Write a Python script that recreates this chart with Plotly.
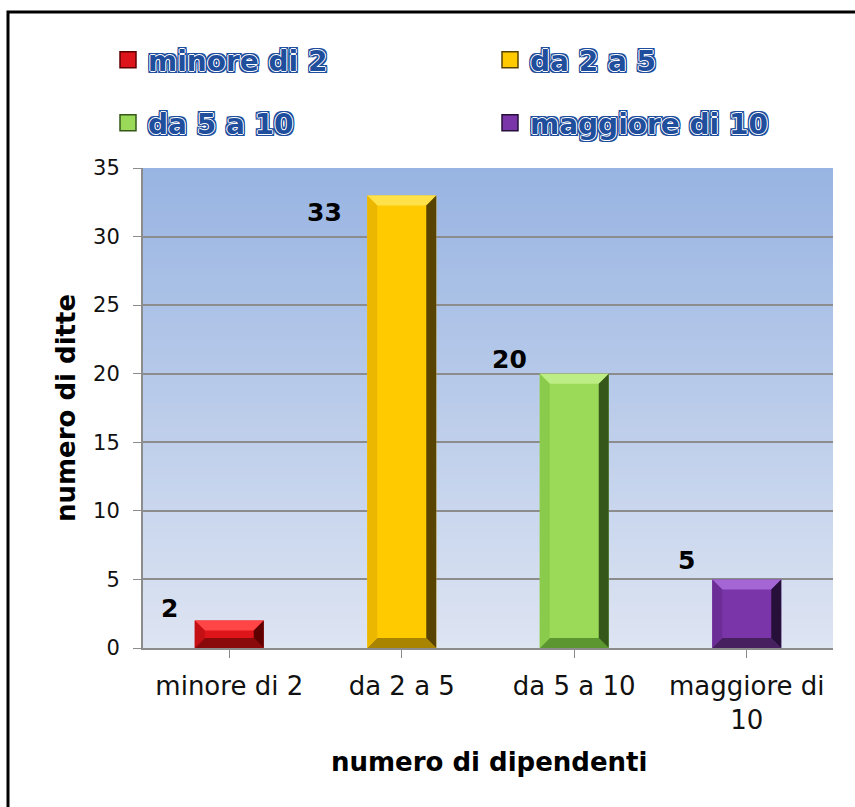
import plotly.graph_objects as go

# ---- data ----
categories = ["minore di 2", "da 2 a 5", "da 5 a 10", "maggiore di 10"]
tick_labels = ["minore di 2", "da 2 a 5", "da 5 a 10", "maggiore di<br>10"]
values = [2, 33, 20, 5]

# ---- styles ----
base_colors = ["#DD1419", "#FFCA00", "#9ADA58", "#7A36A8"]
top_colors = ["#FF4545", "#FFE24A", "#BDEE86", "#A466D4"]
bottom_colors = ["#8A0A0C", "#A88400", "#5C9630", "#46205F"]
right_colors = ["#5E0000", "#584300", "#35581A", "#26103A"]
left_colors = ["#C31015", "#EBB700", "#8BCB4B", "#6C2E96"]
label_dx = [-60, -77, -65, -60]
label_dy = [12, -17, 14, 19]
legend_x_px = [108, 490, 108, 490]
legend_y_px = [60, 60, 123, 123]

W, H = 855, 807
PL, PR, PT, PB = 143, 833, 168, 648  # plot area in screen px
ML, MT = PL, PT
MR, MB = W - PR, H - PB
pw, ph = PR - PL, PB - PT
ymax = 35
bar_w = 0.4


def px(sx):
    return (sx - PL) / pw


def py(sy):
    return (PB - sy) / ph


fig = go.Figure()

for i, (cat, val) in enumerate(zip(categories, values)):
    fig.add_trace(go.Bar(
        x=[i], y=[val], name=cat, width=bar_w,
        marker=dict(color=base_colors[i], line=dict(width=0)),
        showlegend=False, hoverinfo="x+y",
    ))
# legend entries (bigger square swatches), one legend box per entry
legend_ids = ["legend", "legend2", "legend3", "legend4"]
for i, cat in enumerate(categories):
    fig.add_trace(go.Scatter(
        x=[None], y=[None], mode="markers", name=cat,
        marker=dict(symbol="square", size=16, color=base_colors[i],
                    line=dict(color=right_colors[i], width=1.5)),
        legend=legend_ids[i], hoverinfo="skip",
    ))

shapes = []
# gradient background of plot area
N = 80
c0 = (0x98, 0xB4, 0xE2)
c1 = (0xDD, 0xE4, 0xF2)
for k in range(N):
    t = k / (N - 1)
    c = tuple(round(c0[j] + (c1[j] - c0[j]) * t) for j in range(3))
    shapes.append(dict(type="rect", xref="x domain", yref="y domain",
                       x0=0, x1=1, y0=1 - (k + 1) / N, y1=1 - k / N,
                       fillcolor="rgb(%d,%d,%d)" % c, line=dict(width=0),
                       layer="below"))

# bevel effect on bars (computed from data values)
bx = 10 / (pw / len(categories))
by = 10 / (ph / ymax)
for i, val in enumerate(values):
    xl, xr = i - bar_w / 2, i + bar_w / 2
    yb, yt = 0, val
    b = min(by, val / 2)
    polys = [
        (top_colors[i], [(xl, yt), (xr, yt), (xr - bx, yt - b), (xl + bx, yt - b)]),
        (bottom_colors[i], [(xl, yb), (xr, yb), (xr - bx, yb + b), (xl + bx, yb + b)]),
        (left_colors[i], [(xl, yb), (xl, yt), (xl + bx, yt - b), (xl + bx, yb + b)]),
        (right_colors[i], [(xr, yb), (xr, yt), (xr - bx, yt - b), (xr - bx, yb + b)]),
    ]
    for col, pts in polys:
        path = "M" + " L".join("%f,%f" % p for p in pts) + " Z"
        shapes.append(dict(type="path", xref="x", yref="y", path=path,
                           fillcolor=col, line=dict(width=0), layer="above"))

# outer black frame
shapes.append(dict(type="rect", xref="paper", yref="paper",
                   x0=px(8), x1=px(880), y0=py(840), y1=py(12),
                   line=dict(color="black", width=3), fillcolor="rgba(0,0,0,0)"))

annotations = []
for i, val in enumerate(values):
    annotations.append(dict(x=i, y=val, xref="x", yref="y", text="<b>%d</b>" % val,
                            showarrow=False, xshift=label_dx[i], yshift=label_dy[i],
                            font=dict(family="DejaVu Sans", size=25, color="black")))
annotations.append(dict(x=px(66), y=py(408), xref="paper", yref="paper",
                        xanchor="center", yanchor="middle",
                        text="<b>numero di ditte</b>", textangle=-90, showarrow=False,
                        font=dict(family="DejaVu Sans", size=26, color="black")))
annotations.append(dict(x=px(489), y=py(762), xref="paper", yref="paper",
                        xanchor="center", yanchor="middle",
                        text="<b>numero di dipendenti</b>", showarrow=False,
                        font=dict(family="DejaVu Sans", size=26, color="black")))

blue = "#1F4E9C"
shadow = ("1px 0 0 #fff, -1px 0 0 #fff, 0 1px 0 #fff, 0 -1px 0 #fff, "
          "2px 0 0 %s, -2px 0 0 %s, 0 2px 0 %s, 0 -2px 0 %s, "
          "2px 2px 0 %s, -2px -2px 0 %s, 2px -2px 0 %s, -2px 2px 0 %s") % ((blue,) * 8)
legend_font = dict(family="DejaVu Sans", size=28, color=blue, weight="bold", shadow=shadow)

legends = {}
for i, lid in enumerate(legend_ids):
    legends[lid] = dict(orientation="h", x=px(legend_x_px[i]), y=py(legend_y_px[i]),
                        xanchor="left", yanchor="middle",
                        font=legend_font, bgcolor="rgba(0,0,0,0)",
                        itemsizing="trace")

fig.update_layout(
    width=W, height=H,
    margin=dict(l=ML, r=MR, t=MT, b=MB),
    paper_bgcolor="white",
    plot_bgcolor="rgba(0,0,0,0)",
    barmode="overlay",
    showlegend=True,
    xaxis=dict(
        tickmode="array", tickvals=list(range(len(categories))), ticktext=tick_labels,
        range=[-0.5, len(categories) - 0.5],
        tickson="boundaries", ticks="outside", ticklen=8, tickcolor="#8C8C8C",
        showline=True, linecolor="#8C8C8C", linewidth=2, showgrid=False,
        tickfont=dict(family="DejaVu Sans", size=26, color="#111"),
        zeroline=False, ticklabelstandoff=6,
    ),
    yaxis=dict(
        range=[0, ymax], dtick=5, tick0=0,
        ticks="outside", ticklen=8, tickcolor="#8C8C8C",
        showline=True, linecolor="#8C8C8C", linewidth=2,
        showgrid=True, gridcolor="#8C8C8C", gridwidth=1.5,
        tickfont=dict(family="DejaVu Sans", size=21, color="#111"),
        zeroline=False, ticklabelstandoff=9,
    ),
    shapes=shapes,
    annotations=annotations,
    **legends,
)

fig.write_html("out.html", config={"displayModeBar": False},
               post_script="document.body.style.margin='0';")
